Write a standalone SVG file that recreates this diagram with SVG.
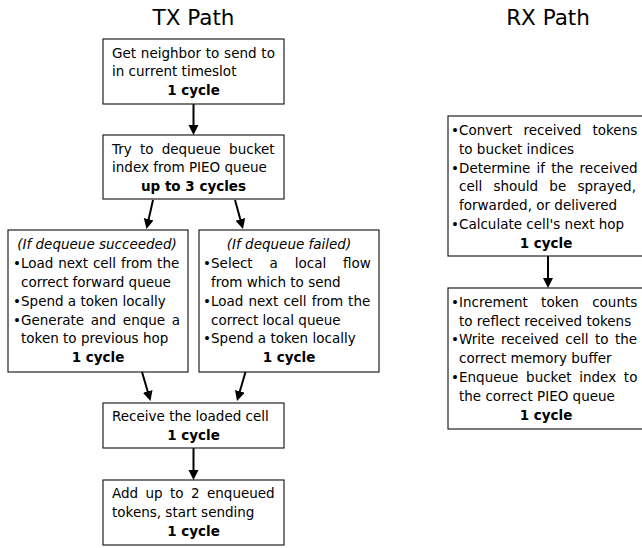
<svg xmlns="http://www.w3.org/2000/svg" width="642" height="548" viewBox="0 0 642 548">
<style>
text{font-family:"DejaVu Sans","Noto Sans",sans-serif;font-size:13.5px;fill:#000}
.title{font-size:21.5px;text-anchor:middle}
.b{font-weight:bold;text-anchor:middle}
.i{font-style:italic;text-anchor:middle}
.bu{text-anchor:end}
.box{fill:#fff;stroke:#222;stroke-width:1.2}
.conn{stroke:#000;stroke-width:2;fill:none;marker-end:url(#ah)}
</style>
<defs>
<marker id="ah" markerUnits="userSpaceOnUse" markerWidth="12" markerHeight="12" refX="4" refY="5" orient="auto">
<path d="M0,0 L10,5 L0,10 z" fill="#000"/>
</marker>
</defs>
<rect width="642" height="548" fill="#fff"/>
<text class="title" x="193.5" y="25">TX Path</text>
<text class="title" x="548" y="25">RX Path</text>

<g id="tx1">
<rect class="box" x="103" y="39" width="181" height="65"/>
<text x="112" y="57.5" word-spacing="0.5">Get neighbor to send to</text>
<text x="112" y="76.3">in current timeslot</text>
<text class="b" x="193.5" y="95.1">1 cycle</text>
</g>

<g id="tx2">
<rect class="box" x="103" y="135" width="181" height="64"/>
<text x="112" y="153.5" word-spacing="3.9">Try to dequeue bucket</text>
<text x="112" y="172.3">index from PIEO queue</text>
<text class="b" x="193.5" y="191.1">up to 3 cycles</text>
</g>

<g id="tx3a">
<rect class="box" x="8" y="230" width="180" height="142"/>
<text class="i" x="97" y="249.3">(If dequeue succeeded)</text>
<text class="bu" x="21" y="268.1">•</text><text x="21" y="268.1" word-spacing="0.5">Load next cell from the</text>
<text x="21" y="286.9">correct forward queue</text>
<text class="bu" x="21" y="305.7">•</text><text x="21" y="305.7">Spend a token locally</text>
<text class="bu" x="21" y="324.5">•</text><text x="21" y="324.5" word-spacing="2.4">Generate and enque a</text>
<text x="21" y="343.3">token to previous hop</text>
<text class="b" x="98" y="362.1">1 cycle</text>
</g>

<g id="tx3b">
<rect class="box" x="199" y="230" width="180" height="142"/>
<text class="i" x="289" y="249.3">(If dequeue failed)</text>
<text class="bu" x="211" y="268.1">•</text><text x="211" y="268.1" word-spacing="12.6">Select a local flow</text>
<text x="211" y="286.9">from which to send</text>
<text class="bu" x="211" y="305.7">•</text><text x="211" y="305.7" word-spacing="0.75">Load next cell from the</text>
<text x="211" y="324.5">correct local queue</text>
<text class="bu" x="211" y="343.3">•</text><text x="211" y="343.3">Spend a token locally</text>
<text class="b" x="289" y="362.1">1 cycle</text>
</g>

<g id="tx4">
<rect class="box" x="103" y="403" width="181" height="45"/>
<text x="112" y="420.8">Receive the loaded cell</text>
<text class="b" x="193.5" y="439.6">1 cycle</text>
</g>

<g id="tx5">
<rect class="box" x="103" y="480" width="181" height="65"/>
<text x="112" y="498.4" word-spacing="3.1">Add up to 2 enqueued</text>
<text x="112" y="517.2">tokens, start sending</text>
<text class="b" x="193.5" y="536">1 cycle</text>
</g>

<g id="rx1">
<rect class="box" x="448" y="116" width="200" height="140"/>
<text class="bu" x="459" y="135">•</text><text x="459" y="135" word-spacing="6.8">Convert received tokens</text>
<text x="459" y="153.8">to bucket indices</text>
<text class="bu" x="459" y="172.6">•</text><text x="459" y="172.6" word-spacing="1.9">Determine if the received</text>
<text x="459" y="191.4" word-spacing="6.9">cell should be sprayed,</text>
<text x="459" y="210.2">forwarded, or delivered</text>
<text class="bu" x="459" y="229">•</text><text x="459" y="229">Calculate cell's next hop</text>
<text class="b" x="546" y="247.8">1 cycle</text>
</g>

<g id="rx2">
<rect class="box" x="448" y="288" width="200" height="141"/>
<text class="bu" x="459" y="306.8">•</text><text x="459" y="306.8" word-spacing="9">Increment token counts</text>
<text x="459" y="325.6">to reflect received tokens</text>
<text class="bu" x="459" y="344.4">•</text><text x="459" y="344.4" word-spacing="2.1">Write received cell to the</text>
<text x="459" y="363.2">correct memory buffer</text>
<text class="bu" x="459" y="382">•</text><text x="459" y="382" word-spacing="3.4">Enqueue bucket index to</text>
<text x="459" y="400.8">the correct PIEO queue</text>
<text class="b" x="546" y="419.6">1 cycle</text>
</g>

<g id="connectors">
<path class="conn" d="M193.5,104 L193.5,129"/>
<path class="conn" d="M153,200 L147.8,223.1"/>
<path class="conn" d="M235,200 L241.4,223.2"/>
<path class="conn" d="M142,372 L148.8,395.2"/>
<path class="conn" d="M245.5,372 L238.7,395.2"/>
<path class="conn" d="M193.5,448 L193.5,474"/>
<path class="conn" d="M548,256 L548,282"/>
</g>
</svg>
